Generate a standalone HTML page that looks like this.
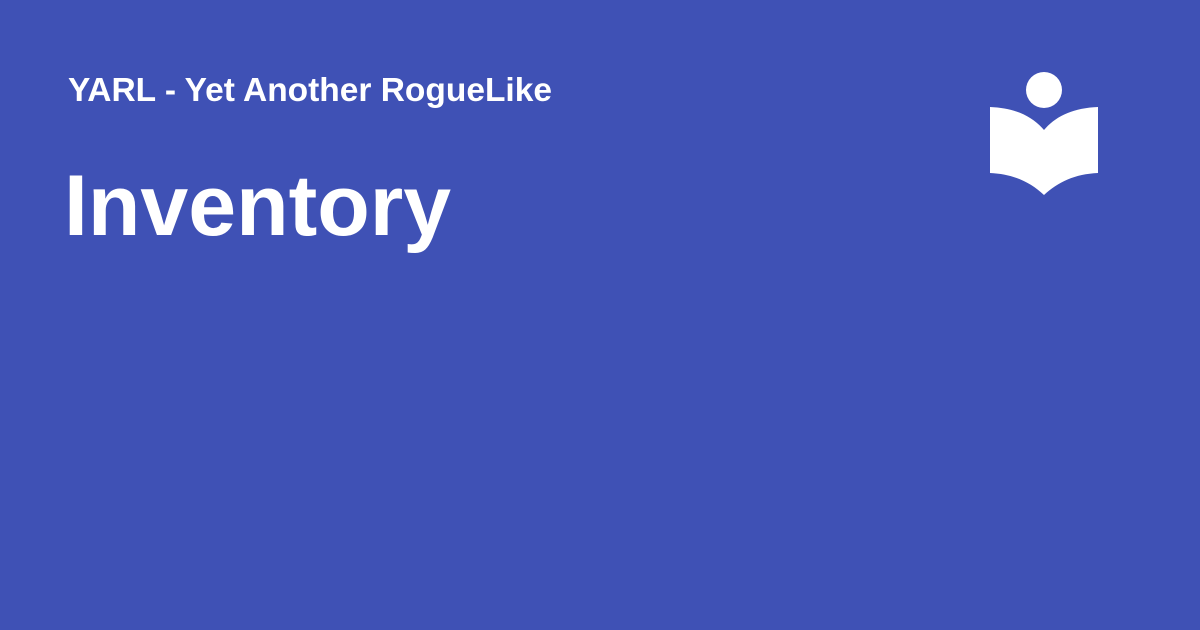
<!DOCTYPE html>
<html><head><meta charset="utf-8"><style>
html,body{margin:0;padding:0;}
body{width:1200px;height:630px;background:#3F51B5;position:relative;overflow:hidden;font-family:"Liberation Sans",sans-serif;color:#fff;}
.sub{position:absolute;left:68px;top:72px;font-size:33.5px;font-weight:bold;white-space:nowrap;}
.title{position:absolute;left:64px;top:159px;font-size:86px;font-weight:bold;white-space:nowrap;line-height:1.1;}
svg{position:absolute;left:0;top:0;}
</style></head><body>
<div class="sub">YARL - Yet Another RogueLike</div>
<div class="title">Inventory</div>
<svg width="1200" height="630">
<circle cx="1044" cy="90" r="18" fill="#fff"/>
<path d="M990,107 C1015,108 1032,116 1044,130 C1056,116 1073,108 1098,107 L1098,173 C1075,174 1058,182 1044,195 C1030,182 1013,174 990,173 Z" fill="#fff"/>
</svg>
</body></html>
